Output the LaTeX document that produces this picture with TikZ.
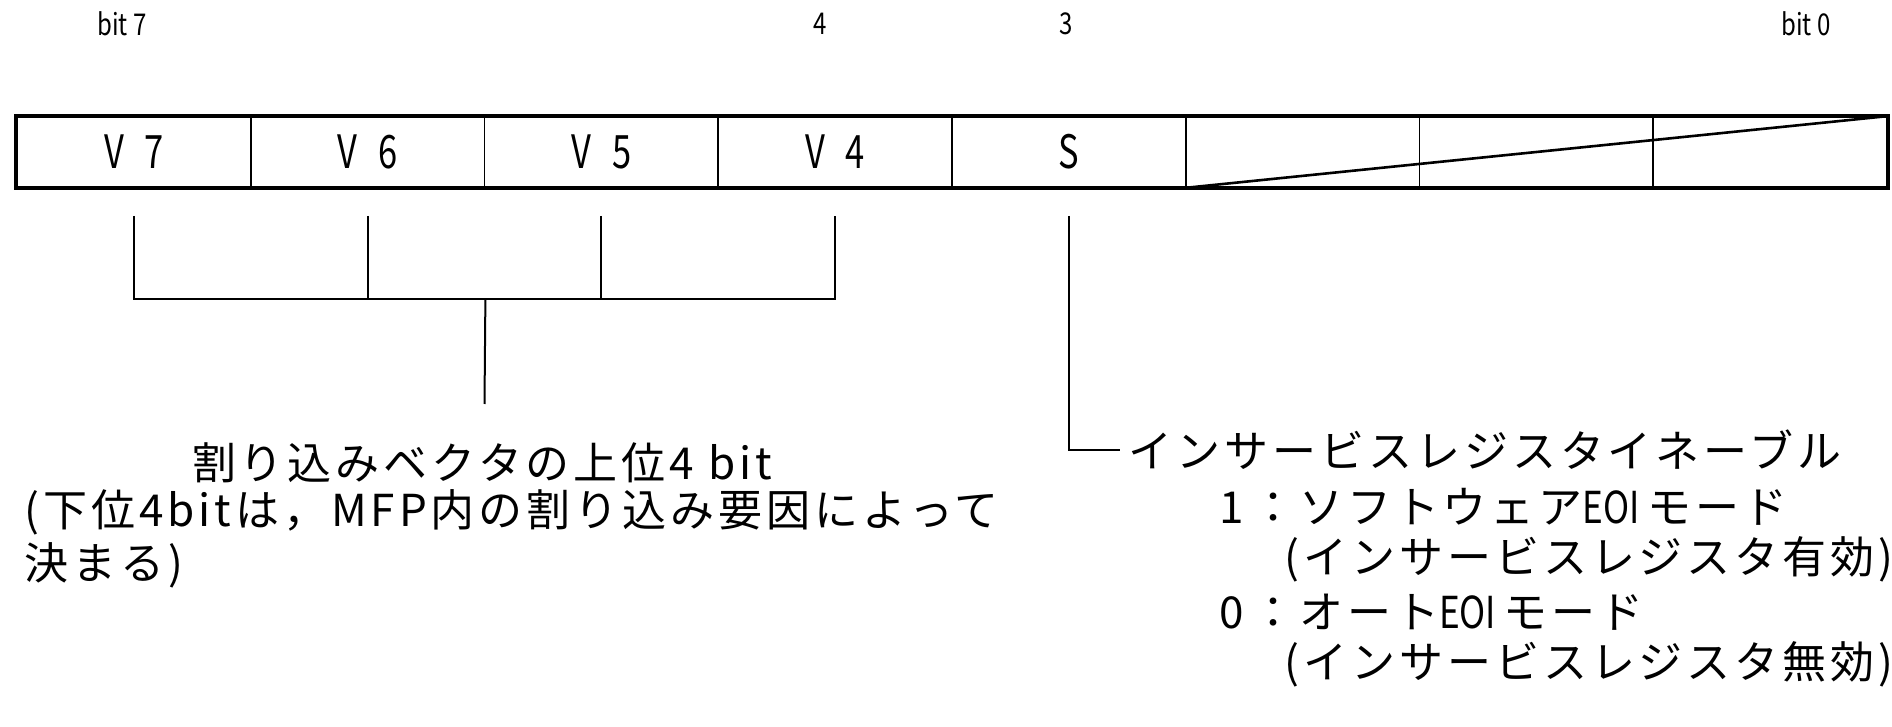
\documentclass[tikz,border=0pt]{standalone}
\usepackage{fontspec}
\setmainfont{Noto Sans CJK JP}
\newfontfamily\jpfont[LetterSpace=9]{Noto Sans CJK JP}
\newfontfamily\latfont[FakeStretch=0.8]{Noto Sans CJK JP}
\newfontfamily\vfont[FakeStretch=0.75]{Noto Sans CJK JP}
\begin{document}
\begin{tikzpicture}[x=0.5pt,y=-0.5pt,
  cell/.style={draw,line width=0.9pt,minimum width=116.875pt,minimum height=35pt,inner sep=0pt,
    font=\fontsize{23}{26}\selectfont\vfont},
  conn/.style={line width=1pt},
  bitlbl/.style={inner sep=0pt,font=\fontsize{15}{17}\selectfont\latfont},
  jtext/.style={inner sep=0pt,anchor=west,font=\fontsize{22}{26}\selectfont\jpfont},
  jmid/.style={inner sep=0pt,font=\fontsize{22}{26}\selectfont\jpfont}]
\useasboundingbox (0,0) rectangle (1892,727);
% register cells
\node[cell] (c7) at (133.875,152) {V\hspace{0.45em}7};
\node[cell] (c6) at (367.625,152) {V\hspace{0.45em}6};
\node[cell] (c5) at (601.375,152) {V\hspace{0.45em}5};
\node[cell] (c4) at (835.125,152) {V\hspace{0.45em}4};
\node[cell] (c3) at (1068.875,152) {S};
\node[cell] (c2) at (1302.625,152) {};
\node[cell] (c1) at (1536.375,152) {};
\node[cell] (c0) at (1770.125,152) {};
\draw[line width=2pt] (c7.north west) rectangle (c0.south east);
\draw[line width=1.3pt] (c2.south west) -- (c0.north east);
% bit numbers
\node[bitlbl] (b7) at (122,24) {bit 7};
\node[bitlbl] (b4) at (820,24) {4};
\node[bitlbl] (b3) at (1066,24) {3};
\node[bitlbl] (b0) at (1806,24) {bit 0};
% texts
\node[jmid] (t1) at (482,463) {割り込みベクタの上位4 bit};
\node[jtext] (t2) at (24,512) {(下位4bitは，MFP内の割り込み要因によって};
\node[jtext] (t3) at (24,565) {決まる)};
\node[jtext] (s1) at (1128,450) {インサービスレジスタイネーブル};
\node[jtext] (s2) at (1219,507) {1\,：ソフトウェア{\latfont EOI}\,モード};
\node[jtext] (s3) at (1284,559) {(インサービスレジスタ有効)};
\node[jtext] (s4) at (1219,612) {0\,：オート{\latfont EOI}\,モード};
\node[jtext] (s5) at (1284,664) {(インサービスレジスタ無効)};
% bracket for V7..V4
\coordinate (bar) at (0,299);
\coordinate (dropend) at (484.5,404);
\draw[conn] ([yshift=-14pt]c7.south) -- (c7.south |- bar) -- (c4.south |- bar) -- ([yshift=-14pt]c4.south);
\draw[conn] ([yshift=-14pt]c6.south) -- (c6.south |- bar);
\draw[conn] ([yshift=-14pt]c5.south) -- (c5.south |- bar);
\draw[conn] (c6.south east |- bar) -- (dropend);
% S connector
\draw[conn] ([yshift=-14pt]c3.south) |- ([xshift=-4pt]s1.west);
\end{tikzpicture}
\end{document}
